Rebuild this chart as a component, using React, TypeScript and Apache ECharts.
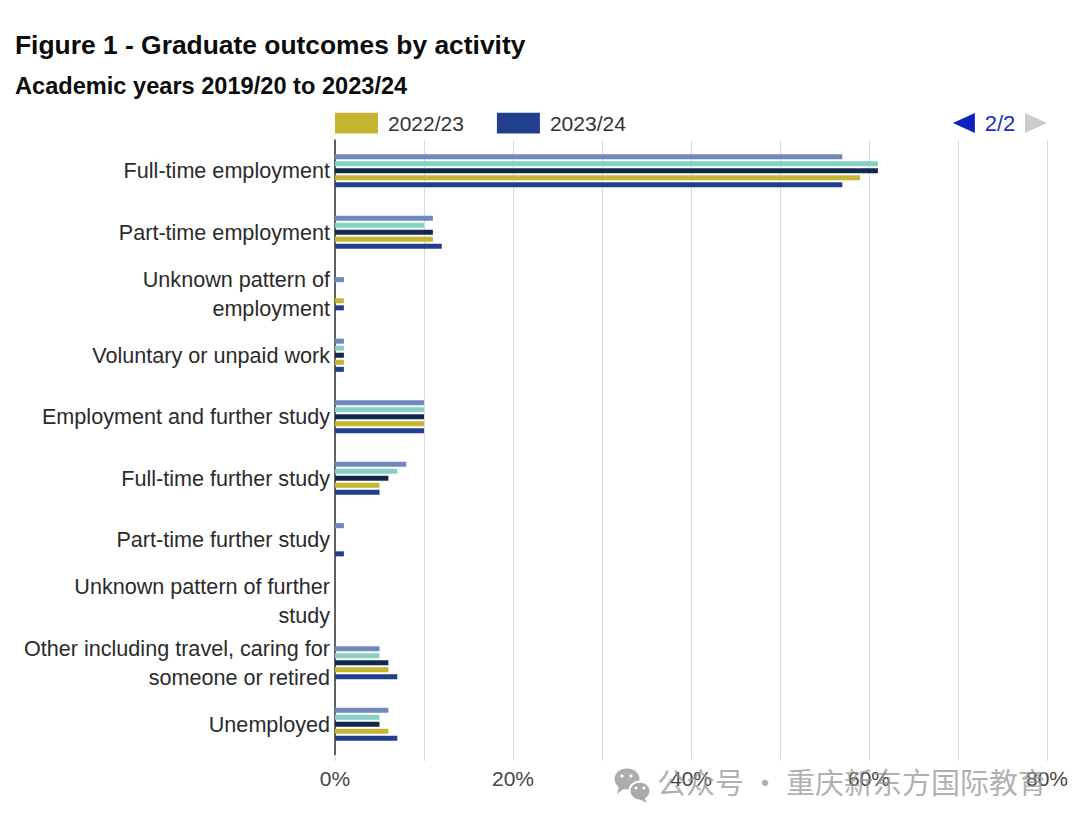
import React, { useEffect, useRef } from "react";
import * as echarts from "echarts";

const categories = [
  "Full-time employment",
  "Part-time employment",
  "Unknown pattern of\nemployment",
  "Voluntary or unpaid work",
  "Employment and further study",
  "Full-time further study",
  "Part-time further study",
  "Unknown pattern of further\nstudy",
  "Other including travel, caring for\nsomeone or retired",
  "Unemployed",
];

const seriesNames = ["2019/20", "2020/21", "2021/22", "2022/23", "2023/24"];
const seriesColors = ["#7089bd", "#86d1c7", "#13284f", "#c4b632", "#213f8a"];

const values2019_20 = [57, 11, 1, 1, 10, 8, 1, 0, 5, 6];
const values2020_21 = [61, 10, 0, 1, 10, 7, 0, 0, 5, 5];
const values2021_22 = [61, 11, 0, 1, 10, 6, 0, 0, 6, 5];
const values2022_23 = [59, 11, 1, 1, 10, 5, 0, 0, 6, 6];
const values2023_24 = [57, 12, 1, 1, 10, 5, 1, 0, 7, 7];

const allValues = [values2019_20, values2020_21, values2021_22, values2022_23, values2023_24];

const titleText = "Figure 1 - Graduate outcomes by activity";
const subtitleText = "Academic years 2019/20 to 2023/24";
const watermarkText = "公众号 · 重庆新东方国际教育";

const FONT = "'Liberation Sans', Arial, sans-serif";

export default function App() {
  const ref = useRef<HTMLDivElement>(null);

  useEffect(() => {
    if (!ref.current) return;
    const chart = echarts.init(ref.current, undefined, { renderer: "svg" });
    const option: any = {
      animation: false,
      backgroundColor: "#ffffff",
      textStyle: { fontFamily: FONT },
      title: [
        {
          text: titleText,
          left: 10,
          top: 27,
          textStyle: { fontSize: 26.4, fontWeight: "bold", color: "#0b0c0c", fontFamily: FONT },
        },
        {
          text: subtitleText,
          left: 10,
          top: 69,
          textStyle: { fontSize: 23.6, fontWeight: "bold", color: "#0b0c0c", fontFamily: FONT },
        },
      ],
      legend: {
        type: "scroll",
        left: 330,
        top: 107,
        width: 712,
        icon: "rect",
        itemWidth: 43,
        itemHeight: 21,
        itemGap: 33,
        scrollDataIndex: 3,
        pageButtonGap: 80,
        pageButtonItemGap: 0,
        pageIconColor: "#0b22c0",
        pageIconInactiveColor: "#cccccc",
        pageIcons: {
          horizontal: ["path://M0,10L22,0L22,20z", "path://M22,10L0,0L0,20z"],
        },
        pageIconSize: [22, 20],
        pageTextStyle: { color: "#1a2fbf", fontSize: 22, fontFamily: FONT },
        textStyle: { fontSize: 21, color: "#333333", fontFamily: FONT, padding: [0, 0, 0, 5] },
        data: seriesNames,
      },
      grid: {
        left: 335,
        right: 33,
        top: 140,
        bottom: 71,
        containLabel: false,
      },
      xAxis: {
        type: "value",
        min: 0,
        max: 80,
        interval: 10,
        axisLine: { show: false },
        axisTick: { show: true, length: 6, lineStyle: { color: "#dddddd" } },
        splitLine: { show: true, lineStyle: { color: "#d9d9d9", width: 1 } },
        axisLabel: {
          fontSize: 21,
          color: "#444444",
          margin: 13,
          fontFamily: FONT,
          formatter: (v: number) => (v % 20 === 0 ? v + "%" : ""),
        },
      },
      yAxis: {
        type: "category",
        inverse: true,
        data: categories,
        axisLine: { show: true, lineStyle: { color: "#333333", width: 1.5 } },
        axisTick: { show: false },
        axisLabel: {
          fontSize: 21.6,
          color: "#2b2b2b",
          margin: 5,
          lineHeight: 29,
          fontFamily: FONT,
        },
      },
      series: seriesNames.map((name, i) => ({
        name,
        type: "bar",
        data: allValues[i],
        itemStyle: { color: seriesColors[i] },
        barGap: "40%",
        barCategoryGap: "46%",
      })),
      graphic: [
        {
          type: "ellipse",
          shape: { cx: 627, cy: 779, rx: 12.5, ry: 10.5 },
          style: { fill: "rgba(165,165,165,0.92)" },
          z: 100,
        },
        {
          type: "polygon",
          shape: { points: [[619, 786], [617, 794], [625, 788]] },
          style: { fill: "rgba(165,165,165,0.92)" },
          z: 100,
        },
        {
          type: "circle",
          shape: { cx: 622, cy: 776, r: 1.6 },
          style: { fill: "#ffffff" },
          z: 102,
        },
        {
          type: "circle",
          shape: { cx: 631, cy: 776, r: 1.6 },
          style: { fill: "#ffffff" },
          z: 102,
        },
        {
          type: "ellipse",
          shape: { cx: 640, cy: 791, rx: 10.5, ry: 9.5 },
          style: { fill: "rgba(165,165,165,0.95)", stroke: "#ffffff", lineWidth: 2 },
          z: 103,
        },
        {
          type: "polygon",
          shape: { points: [[644, 797], [647, 803], [639, 799]] },
          style: { fill: "rgba(165,165,165,0.95)" },
          z: 103,
        },
        {
          type: "circle",
          shape: { cx: 636, cy: 788, r: 1.5 },
          style: { fill: "#ffffff" },
          z: 104,
        },
        {
          type: "circle",
          shape: { cx: 644, cy: 788, r: 1.5 },
          style: { fill: "#ffffff" },
          z: 104,
        },
        {
          type: "text",
          left: 657,
          top: 766,
          z: 100,
          style: {
            text: watermarkText,
            fontSize: 29,
            fill: "rgba(150,150,150,0.75)",
            fontFamily: "'Noto Sans CJK SC', sans-serif",
          },
        },
      ],
    };
    chart.setOption(option);
    return () => chart.dispose();
  }, []);

  return (
    <div
      ref={ref}
      style={{ position: "fixed", left: 0, top: 0, width: 1080, height: 826 }}
    />
  );
}
